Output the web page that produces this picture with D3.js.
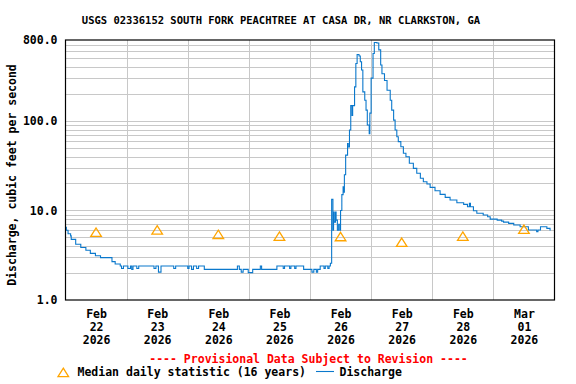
<!DOCTYPE html>
<html>
<head>
<meta charset="utf-8">
<script src="https://cdn.jsdelivr.net/npm/d3@7"></script>
<style>
  html, body { margin: 0; padding: 0; background: #fff; }
  svg { display: block; }
  text { font-family: "DejaVu Sans Mono", "Liberation Mono", monospace; font-weight: bold; fill: #000; }
</style>
</head>
<body>
<svg id="chart" width="576" height="384"></svg>
<script>
// ---------------- data ----------------
const chartTitle = "USGS 02336152 SOUTH FORK PEACHTREE AT CASA DR, NR CLARKSTON, GA";
const yAxisTitle = "Discharge, cubic feet per second";
const provisionalNote = "---- Provisional Data Subject to Revision ----";
const legendMedian = "Median daily statistic (16 years)";
const legendDischarge = "Discharge";

const yTickValues = [1, 10, 100, 800];
const yGridValues = [2,3,4,5,6,7,8,9,10,20,30,40,50,60,70,80,90,100,200,300,400,500,600,700];

const xTickDates  = ["2026-02-22 12:00","2026-02-23 12:00","2026-02-24 12:00","2026-02-25 12:00","2026-02-26 12:00","2026-02-27 12:00","2026-02-28 12:00","2026-03-01 12:00"];
const xTickMonths = ["Feb","Feb","Feb","Feb","Feb","Feb","Feb","Mar"];
const xTickDays   = ["22","23","24","25","26","27","28","01"];
const xTickYears  = ["2026","2026","2026","2026","2026","2026","2026","2026"];
const xGridDates  = ["2026-02-23 00:00","2026-02-24 00:00","2026-02-25 00:00","2026-02-26 00:00","2026-02-27 00:00","2026-02-28 00:00","2026-03-01 00:00"];

const medianDates  = ["2026-02-22 12:00","2026-02-23 12:00","2026-02-24 12:00","2026-02-25 12:00","2026-02-26 12:00","2026-02-27 12:00","2026-02-28 12:00","2026-03-01 12:00"];
const medianValues = [5.7, 6.05, 5.4, 5.15, 5.1, 4.4, 5.15, 6.15];

const dischargeTimes = [
 "2026-02-22 00:00","2026-02-22 00:20","2026-02-22 01:00","2026-02-22 02:00","2026-02-22 02:15","2026-02-22 04:00",
 "2026-02-22 06:00","2026-02-22 08:00","2026-02-22 09:45","2026-02-22 11:45","2026-02-22 13:45","2026-02-22 18:15",
 "2026-02-22 19:30","2026-02-22 21:30","2026-02-22 22:00","2026-02-22 22:45",
 "2026-02-23 00:30","2026-02-23 01:30","2026-02-23 02:00","2026-02-23 02:30","2026-02-23 04:00","2026-02-23 04:45",
 "2026-02-23 10:45","2026-02-23 11:30","2026-02-23 12:30","2026-02-23 13:30","2026-02-23 18:30","2026-02-23 19:15",
 "2026-02-24 00:00","2026-02-24 00:30","2026-02-24 01:30","2026-02-24 02:15","2026-02-24 03:30","2026-02-24 04:15",
 "2026-02-24 06:30","2026-02-24 19:30","2026-02-24 20:15","2026-02-24 21:00","2026-02-24 21:45","2026-02-24 23:45",
 "2026-02-25 01:30","2026-02-25 04:30","2026-02-25 05:00","2026-02-25 11:00","2026-02-25 13:30","2026-02-25 14:00",
 "2026-02-25 16:00","2026-02-25 16:30","2026-02-25 18:00","2026-02-25 18:30","2026-02-25 21:30",
 "2026-02-26 00:45","2026-02-26 01:30","2026-02-26 02:30","2026-02-26 03:00","2026-02-26 04:00","2026-02-26 05:30",
 "2026-02-26 06:00","2026-02-26 07:00","2026-02-26 07:30","2026-02-26 08:00","2026-02-26 08:30","2026-02-26 09:00",
 "2026-02-26 09:15","2026-02-26 09:30","2026-02-26 10:00","2026-02-26 10:15","2026-02-26 10:45","2026-02-26 11:15",
 "2026-02-26 11:45","2026-02-26 12:00","2026-02-26 12:30","2026-02-26 13:00","2026-02-26 13:15","2026-02-26 13:30",
 "2026-02-26 14:00","2026-02-26 14:45","2026-02-26 15:00","2026-02-26 15:30","2026-02-26 16:00","2026-02-26 16:30",
 "2026-02-26 16:45","2026-02-26 17:30","2026-02-26 18:00","2026-02-26 18:30","2026-02-26 19:15","2026-02-26 19:45",
 "2026-02-26 20:15","2026-02-26 20:45","2026-02-26 21:30","2026-02-26 22:00","2026-02-26 22:30","2026-02-26 23:15",
 "2026-02-26 23:30","2026-02-27 00:00","2026-02-27 00:45","2026-02-27 01:15","2026-02-27 02:15","2026-02-27 03:00",
 "2026-02-27 03:45","2026-02-27 04:15","2026-02-27 05:15","2026-02-27 06:15","2026-02-27 07:30","2026-02-27 08:05",
 "2026-02-27 08:50","2026-02-27 09:25","2026-02-27 10:05","2026-02-27 10:40","2026-02-27 11:40","2026-02-27 12:40",
 "2026-02-27 13:40","2026-02-27 15:00","2026-02-27 16:35","2026-02-27 17:55","2026-02-27 19:20","2026-02-27 20:30",
 "2026-02-27 21:55","2026-02-27 23:10","2026-02-28 01:05","2026-02-28 03:05","2026-02-28 05:05","2026-02-28 07:00",
 "2026-02-28 09:40","2026-02-28 12:20","2026-02-28 13:50","2026-02-28 14:35","2026-02-28 15:00","2026-02-28 16:10",
 "2026-02-28 17:30","2026-02-28 20:00","2026-02-28 21:45","2026-02-28 22:45","2026-03-01 01:30","2026-03-01 03:15",
 "2026-03-01 04:00","2026-03-01 06:00","2026-03-01 08:00","2026-03-01 10:30","2026-03-01 13:45","2026-03-01 17:00",
 "2026-03-01 17:30","2026-03-01 18:30","2026-03-01 21:00","2026-03-01 22:15","2026-03-01 22:30"
];
const dischargeValues = [
 6.5, 6.0, 5.5, 5.2, 4.75, 4.2,
 3.85, 3.6, 3.32, 3.12, 2.97, 2.68,
 2.52, 2.4, 2.25, 2.4,
 2.25, 2.4, 2.2, 2.4, 2.25, 2.4,
 2.25, 2.4, 2.05, 2.4, 2.25, 2.4,
 2.25, 2.4, 2.2, 2.4, 2.25, 2.4,
 2.2, 2.4, 2.2, 2.05, 2.2, 2.02,
 2.2, 2.4, 2.2, 2.4, 2.25, 2.4,
 2.25, 2.4, 2.25, 2.4, 2.2,
 2.05, 2.2, 2.05, 2.2, 2.4, 2.25,
 2.4, 2.25, 2.4, 2.57, 13.3, 6.0,
 9.6, 7.4, 9.6, 7.8, 6.0, 7.0,
 6.0, 10, 15, 18.4, 16, 25,
 41.5, 56, 51, 79, 148, 115,
 148, 240, 437, 552, 530, 458,
 370, 211, 170, 132, 90, 72,
 122, 300, 566, 750, 740, 620,
 420, 336, 282, 220, 170, 132,
 102, 79, 66.6, 58.6, 51.5, 43.5,
 39.8, 33.6, 29.5, 26.0, 22.9, 20.9,
 19.7, 18.1, 16.6, 15.1, 14.0, 13.1,
 12.2, 11.7, 11.0, 12.0, 11.0, 9.93,
 9.3, 8.9, 8.5, 8.0, 7.8, 7.6,
 7.4, 7.18, 6.88, 6.58, 6.05, 5.8,
 6.05, 6.58, 6.3, 6.05, 6.05
];

// ---------------- chart ----------------
const parse = d3.timeParse("%Y-%m-%d %H:%M");
const svg = d3.select("#chart");

const plot = { left: 65.5, right: 554.5, top: 40, bottom: 300 };

const x = d3.scaleTime()
  .domain([parse("2026-02-22 00:00"), parse("2026-03-02 00:00")])
  .range([plot.left, plot.right]);
const y = d3.scaleLog()
  .domain([1, 800])
  .range([plot.bottom, plot.top]);

// title
svg.append("text")
  .attr("x", 281).attr("y", 24)
  .attr("text-anchor", "middle")
  .style("font-size", "10.5px")
  .text(chartTitle);

// gridlines
const grid = svg.append("g").attr("stroke", "#c8c8c8").attr("stroke-width", 1);
grid.selectAll("line.h").data(yGridValues).join("line")
  .attr("x1", plot.left).attr("x2", plot.right)
  .attr("y1", d => Math.round(y(d)) + 0.5).attr("y2", d => Math.round(y(d)) + 0.5);
grid.selectAll("line.v").data(xGridDates.map(parse)).join("line")
  .attr("y1", plot.top).attr("y2", plot.bottom)
  .attr("x1", d => Math.round(x(d)) + 0.5).attr("x2", d => Math.round(x(d)) + 0.5);

// discharge line
const pts = dischargeTimes.map((t, i) => ({ t: parse(t), v: dischargeValues[i] }));
svg.append("path")
  .datum(pts)
  .attr("fill", "none")
  .attr("stroke", "#0a78cc")
  .attr("stroke-width", 1.1)
  .attr("d", d3.line().curve(d3.curveStepAfter).x(d => x(d.t)).y(d => y(d.v)));

// median triangles
const triPath = "M0,-4.3L5.3,4.1L-5.3,4.1Z";
svg.append("g").selectAll("path").data(medianDates.map((d, i) => ({ t: parse(d), v: medianValues[i] })))
  .join("path")
  .attr("d", triPath)
  .attr("transform", d => `translate(${x(d.t)},${y(d.v)})`)
  .attr("fill", "none")
  .attr("stroke", "#ffa500")
  .attr("stroke-width", 1.3);

// frame
svg.append("rect")
  .attr("x", plot.left).attr("y", plot.top)
  .attr("width", plot.right - plot.left).attr("height", plot.bottom - plot.top)
  .attr("fill", "none").attr("stroke", "#000").attr("stroke-width", 1.2);

// y axis
const yAxis = svg.append("g")
  .attr("transform", `translate(${plot.left},0)`)
  .call(d3.axisLeft(y).tickValues(yTickValues).tickFormat(d3.format(".1f")).tickSize(0).tickPadding(8));
yAxis.select(".domain").remove();
yAxis.selectAll("text").style("font-size", "11.5px").attr("fill", "#000");

// x axis
const xAxis = svg.append("g")
  .attr("transform", `translate(0,${plot.bottom})`)
  .call(d3.axisBottom(x).tickValues(xTickDates.map(parse)).tickSize(0).tickFormat(""));
xAxis.select(".domain").remove();
xAxis.selectAll(".tick").each(function(d, i) {
  const t = d3.select(this).select("text");
  t.attr("y", 0).attr("dy", null).style("font-size", "11.5px").attr("fill", "#000");
  t.append("tspan").attr("x", 0).attr("y", 18).text(xTickMonths[i]);
  t.append("tspan").attr("x", 0).attr("y", 31).text(xTickDays[i]);
  t.append("tspan").attr("x", 0).attr("y", 44).text(xTickYears[i]);
});

// y axis title
svg.append("text")
  .attr("transform", "translate(16,175) rotate(-90)")
  .attr("text-anchor", "middle")
  .style("font-size", "11.5px")
  .text(yAxisTitle);

// provisional note
svg.append("text")
  .attr("x", 308.5).attr("y", 363)
  .attr("text-anchor", "middle")
  .style("font-size", "11.5px")
  .style("fill", "#ff0000")
  .text(provisionalNote);

// legend
svg.append("path")
  .attr("d", triPath)
  .attr("transform", "translate(63.3,372.5)")
  .attr("fill", "none").attr("stroke", "#ffa500").attr("stroke-width", 1.3);
svg.append("text").attr("x", 77.5).attr("y", 376).style("font-size", "11.5px").text(legendMedian);
svg.append("line")
  .attr("x1", 316).attr("x2", 334).attr("y1", 371.5).attr("y2", 371.5)
  .attr("stroke", "#0a78cc").attr("stroke-width", 1.1);
svg.append("text").attr("x", 339.5).attr("y", 376).style("font-size", "11.5px").text(legendDischarge);
</script>
</body>
</html>
